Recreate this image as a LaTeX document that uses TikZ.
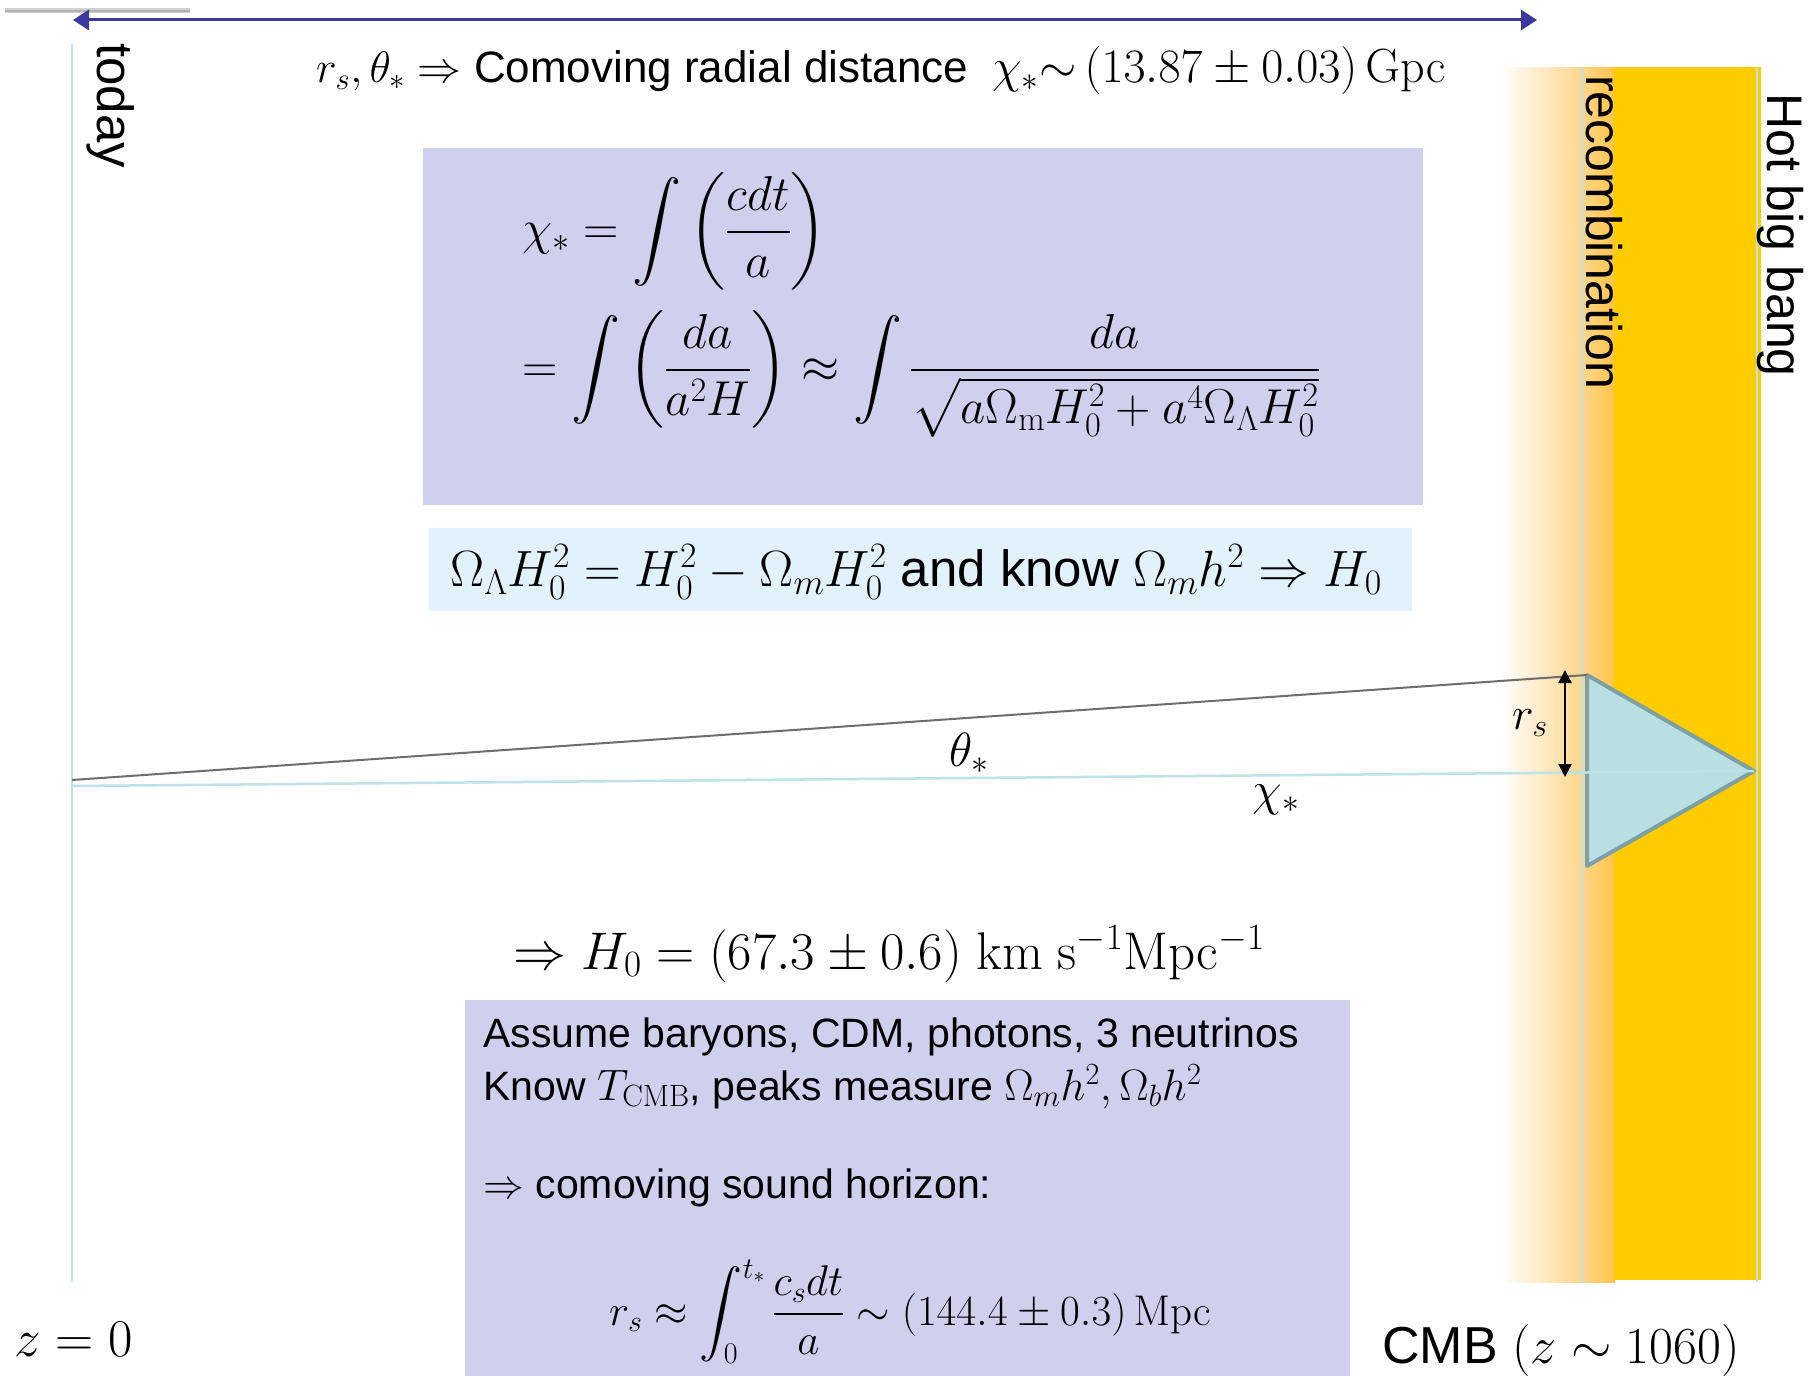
\documentclass[tikz,border=0pt]{standalone}
\usepackage{fix-cm}
\usepackage{amsmath}
\usepackage[no-math]{fontspec}
\setmainfont{Liberation Sans}
\usetikzlibrary{arrows.meta}
\DeclareFontFamily{OMX}{bigex}{}
\DeclareFontShape{OMX}{bigex}{m}{n}{<->cmex10}{}
\DeclareSymbolFont{largesymbols}{OMX}{bigex}{m}{n}
\newcommand{\myfs}[1]{\fontsize{#1}{#1}\selectfont}
\definecolor{lav}{RGB}{207,207,238}
\definecolor{lblue}{RGB}{225,242,252}
\definecolor{gold}{RGB}{255,204,0}
\definecolor{lorange}{RGB}{254,214,140}
\definecolor{morange}{RGB}{255,196,70}
\definecolor{cyanline}{RGB}{188,226,234}
\definecolor{arrowblue}{RGB}{58,58,160}
\definecolor{trifill}{RGB}{186,223,227}
\definecolor{tridraw}{RGB}{125,160,165}
\definecolor{darkline}{RGB}{110,110,110}
\begin{document}
\begin{tikzpicture}[x=1pt,y=-1pt,
  txt/.style={inner sep=0pt},
  boxfill/.style={inner sep=0pt, anchor=north west},
  vline/.style={draw=cyanline, line width=2pt},
  rottxt/.style={inner sep=0pt, rotate=-90, anchor=base west}]
\useasboundingbox (0,0) rectangle (1819,1375);
\fill[white] (0,0) rectangle (1819,1375);

% orange band
\shade[left color=white, right color=lorange] (1500,68) rectangle (1582,1282);
\shade[left color=lorange, right color=morange] (1582,68) rectangle (1615,1282);
\fill[gold] (1614,67) rectangle (1761,1280);

% vertical lines
\coordinate (todayT) at (72,44);
\coordinate (todayB) at (72,1282);
\coordinate (recT) at (1582,68);
\coordinate (recB) at (1582,1283);
\coordinate (hbT) at (1757,68);
\coordinate (hbB) at (1757,1282);
\draw[vline] (todayT) -- (todayB);
\draw[vline] (recT) -- (recB);
\draw[vline] (hbT) -- (hbB);

% top-left gray line
\coordinate (gA) at (5,11);
\coordinate (gB) at (190,11);
\draw[gray!35, line width=5pt] (gA) -- (gB);
\draw[gray!60, line width=2pt] (gA) -- (gB);

% top arrow
\coordinate (arrL) at (73,20);
\coordinate (arrR) at (1537,20);
\draw[arrowblue, line width=3pt, {Triangle[length=16pt,width=20pt]}-{Triangle[length=16pt,width=20pt]}] (arrL) -- (arrR);

% boxes
\node[boxfill, fill=lav, minimum width=1000pt, minimum height=357pt] (box1) at (423,148) {};
\node[boxfill, fill=lblue, minimum width=983pt, minimum height=83pt] (box2) at (429,528) {};
\node[boxfill, fill=lav, minimum width=885pt, minimum height=376pt] (box3) at (465,1000) {};

% triangle and lines
\coordinate (apex) at (72,780);
\coordinate (cstart) at (72,786);
\coordinate (ctop) at (1587,675);
\coordinate (ctip) at (1754,771);
\coordinate (cbot) at (1587,866);
\draw[fill=trifill, draw=tridraw, line width=4pt, line join=round] (ctop) -- (ctip) -- (cbot) -- cycle;
\draw[darkline, line width=2pt] (apex) -- (ctop);
\draw[cyanline, line width=2.5pt] (cstart) -- (ctip);

% r_s arrow
\coordinate (rsT) at (1565,670);
\coordinate (rsB) at (1565,777);
\draw[black, line width=2.2pt, {Triangle[length=13pt,width=13pt]}-{Triangle[length=13pt,width=13pt]}] (rsT) -- (rsB);

% rotated labels
\node[rottxt] (today) at (97,43) {\myfs{51}today};
\node[rottxt] (recomb) at (1586,75) {\myfs{50}recombination};
\node[rottxt] (hbb) at (1767,93) {\myfs{50}Hot big bang};

% top text
\node[txt, anchor=base west] (toptxt) at (316,83) {\myfs{44}$r_s,\theta_*\Rightarrow$ Comoving radial distance\ \ \myfs{48}$\chi_*{\sim}\,(13.87\pm0.03)\,\mathrm{Gpc}$};

% box 1 formulas
\node[txt, anchor=base west] (eq1) at (522,244) {\myfs{49}$\displaystyle \chi_* = \int\left(\frac{cdt}{a}\right)$};
\node[txt, anchor=base west] (eq2) at (522,382) {\myfs{49}$\displaystyle = \int\left(\frac{da}{a^2H}\right)\approx\int\frac{da}{\sqrt{a\Omega_{\mathrm m}H_0^2+a^4\Omega_\Lambda H_0^2}}$};

% box 2
\node[txt] (eq3) at (916,572) {\myfs{51}$\Omega_\Lambda H_0^2 = H_0^2 - \Omega_m H_0^2$ and know $\Omega_m h^2 \Rightarrow H_0$};

% H0 result
\node[txt, anchor=base] (hres) at (889,969) {\myfs{53}$\Rightarrow H_0 = (67.3\pm0.6)\ \mathrm{km\ s^{-1}Mpc^{-1}}$};

% box 3 texts
\node[txt, anchor=base west] (t1) at (483,1047) {\myfs{41}Assume baryons, CDM, photons, 3 neutrinos};
\node[txt, anchor=base west] (t2) at (483,1100) {\myfs{41}Know \myfs{44}$T_{\mathrm{CMB}}$\myfs{41}, peaks measure \myfs{44}$\Omega_m h^2,\Omega_b h^2$};
\node[txt, anchor=base west] (t3) at (483,1198) {\myfs{41}$\Rightarrow$ comoving sound horizon:};
\node[txt, anchor=base] (t4) at (910,1325) {\myfs{43}$\displaystyle r_s\approx\int_0^{t_*}\frac{c_s dt}{a}\sim(144.4\pm0.3)\,\mathrm{Mpc}$};

% small labels
\node[txt, anchor=base] (theta) at (969,766) {\myfs{48}$\theta_*$};
\node[txt] (chi) at (1276,800) {\myfs{48}$\chi_*$};
\node[txt] (rs) at (1530,723) {\myfs{46}$r_s$};

% bottom labels
\node[txt, anchor=base west] (cmb) at (1382,1363) {\myfs{52}CMB $(z\sim1060)$};
\node[txt, anchor=base west] (z0) at (14,1356) {\myfs{53}$z=0$};
\end{tikzpicture}
\end{document}
